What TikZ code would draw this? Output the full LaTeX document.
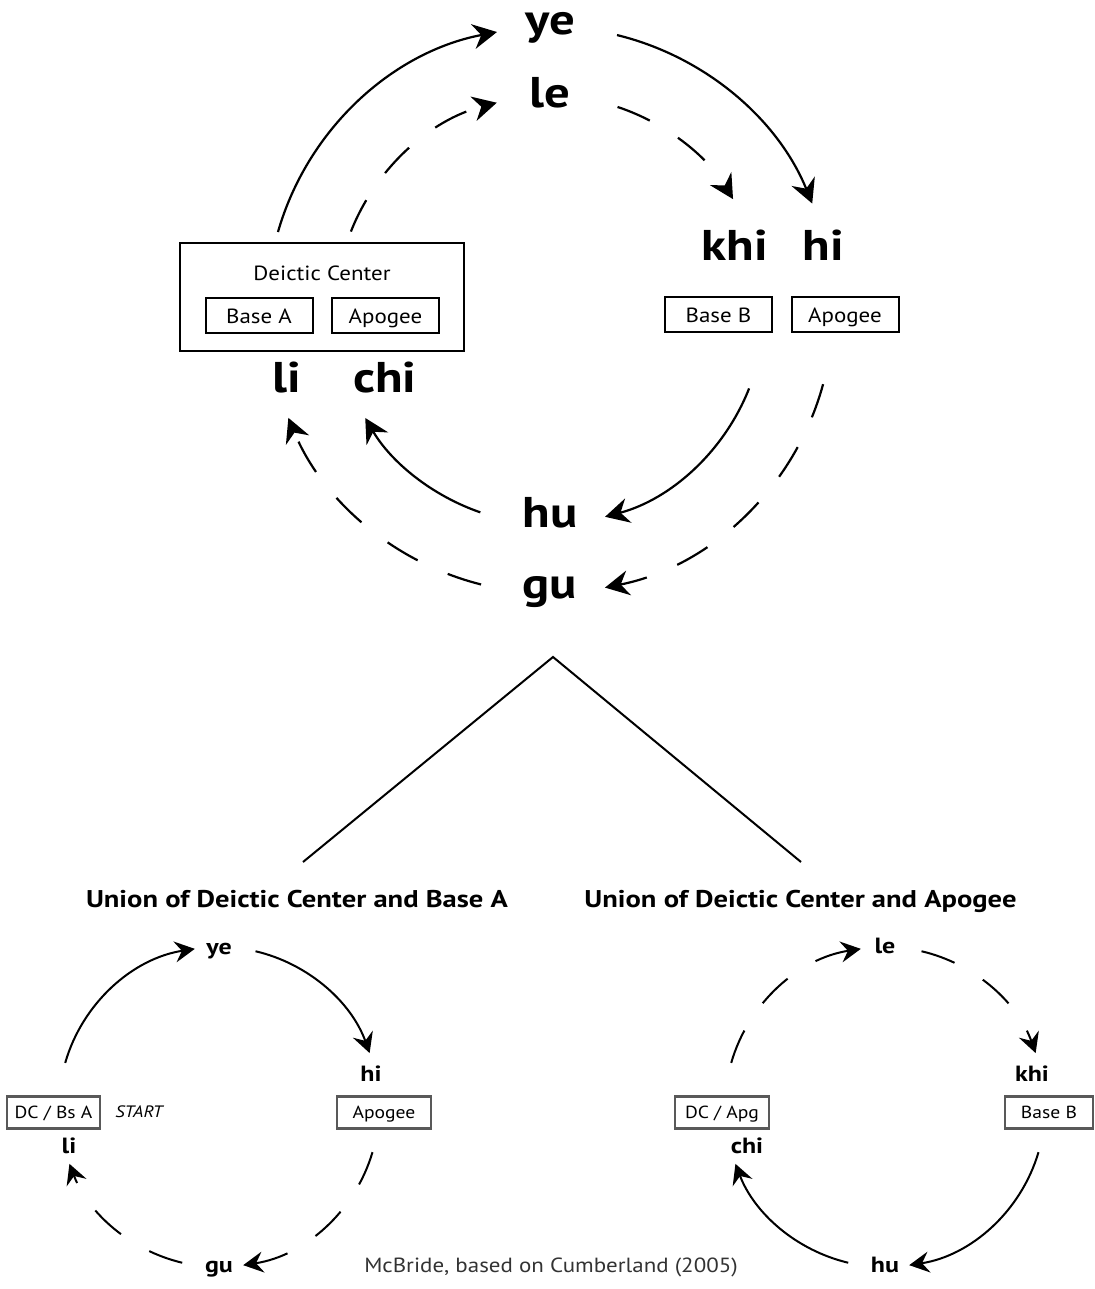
\documentclass[tikz,border=0pt]{standalone}
\usepackage{fontspec}
\setmainfont{PT Sans}[FakeStretch=1.12, BoldFeatures={FakeStretch=1.18}, ItalicFeatures={FakeStretch=1.12}]
\usetikzlibrary{arrows.meta,calc}
\begin{document}
\begin{tikzpicture}[x=1pt,y=1pt,
  big/.style={font=\fontsize{43}{43}\selectfont\bfseries, anchor=base, inner sep=0},
  sml/.style={font=\fontsize{22}{22}\selectfont\bfseries, anchor=base, inner sep=0},
  head/.style={font=\fontsize{24.2}{24}\selectfont\bfseries, anchor=base, inner sep=0},
  tbox/.style={draw, line width=2pt, minimum width=107pt, minimum height=35pt, inner sep=0, text height=20pt, text depth=4pt, font=\fontsize{20.5}{20}\selectfont},
  sbox/.style={draw=black!65, line width=2.5pt, minimum height=32pt, inner sep=0, text height=15pt, text depth=4pt, font=\fontsize{17.5}{17}\selectfont},
  conn/.style={line width=2.2pt, -{Stealth[length=24pt,width=25pt,inset=8pt]}},
  dconn/.style={conn, dash pattern=on 35pt off 33pt},
  sconn/.style={line width=2pt, -{Stealth[length=20pt,width=21pt,inset=7pt]}},
  dsconn/.style={sconn, dash pattern=on 35pt off 33pt},
]
\useasboundingbox (0,0) rectangle (1094,-1289);

% ---------- top diagram ----------
\node[big] (ye) at (550,-35) {ye};
\node[big] (le) at (550,-108) {le};
\node[big] (khi) at (735,-261) {khi};
\node[big] (hi) at (823,-261) {hi};
\node[big] (li) at (287,-392) {li};
\node[big] (chi) at (385,-392) {chi};
\node[big] (hu) at (550,-527) {hu};
\node[big] (gu) at (550,-598) {gu};

\node[draw, line width=2pt, minimum width=284pt, minimum height=107pt] (dc) at (322,-297) {};
\node[anchor=base, inner sep=0, font=\fontsize{20.5}{20}\selectfont] (dctext) at (322,-280) {Deictic Center};
\node[tbox] (basea) at (259,-315) {Base A};
\node[tbox] (apo1) at (385.5,-315) {Apogee};
\node[tbox] (baseb) at (718.5,-314.5) {Base B};
\node[tbox] (apo2) at (845,-314.5) {Apogee};

\coordinate (C) at (550,-310);
\coordinate (o1) at ($(C)+(164:283pt)$);
\coordinate (o2) at ($(C)+(76.3:283pt)$);
\coordinate (o3) at ($(C)+(-15.2:283pt)$);
\coordinate (o4) at ($(C)+(-104.1:283pt)$);
\coordinate (i1) at ($(C)+(158.5:214pt)$);
\coordinate (i2) at ($(C)+(71.6:214pt)$);
\coordinate (i3) at ($(C)+(-21.5:214pt)$);
\coordinate (i4) at ($(C)+(-109:214pt)$);

\draw[conn]  (o1) arc[start angle=164,   end angle=100.8,  radius=283pt];
\draw[conn]  (o2) arc[start angle=76.3,  end angle=22.1,   radius=283pt];
\draw[dconn] (o3) arc[start angle=-15.2, end angle=-78.8,  radius=283pt];
\draw[dconn] (o4) arc[start angle=-104.1,end angle=-157.6, radius=283pt];
\draw[dconn] (i1) arc[start angle=158.5, end angle=104.4,  radius=214pt];
\draw[dconn] (i2) arc[start angle=71.6,  end angle=31.2,   radius=214pt];
\draw[conn]  (i3) arc[start angle=-21.5, end angle=-75.1,  radius=214pt];
\draw[conn]  (i4) arc[start angle=-109,  end angle=-149.7, radius=214pt];

% ---------- split ----------
\coordinate (apex) at (553,-657);
\coordinate (tl) at (303,-862);
\coordinate (tr) at (801,-862);
\draw[line width=2pt] (tl) -- (apex) -- (tr);

% ---------- bottom left ----------
\node[head] (h1) at (297,-907) {Union of Deictic Center and Base A};
\node[sml] (ye2) at (219,-954) {ye};
\node[sml] (hi2) at (371,-1081) {hi};
\node[sml] (li2) at (69,-1153) {li};
\node[sml] (gu2) at (219,-1272) {gu};
\node[sbox, minimum width=93pt] (dcbs) at (53.5,-1112.5) {DC / Bs A};
\node[anchor=base, inner sep=0, font=\fontsize{16.5}{16}\selectfont\itshape] (start) at (139,-1117) {START};
\node[sbox, minimum width=94pt] (apo3) at (384,-1112.5) {Apogee};

\coordinate (CL) at (219,-1107);
\coordinate (l1) at ($(CL)+(164:160pt)$);
\coordinate (l2) at ($(CL)+(76.8:160pt)$);
\coordinate (l3) at ($(CL)+(-16.4:160pt)$);
\coordinate (l4) at ($(CL)+(-103.3:160pt)$);
\draw[sconn]  (l1) arc[start angle=164,    end angle=98.7,   radius=160pt];
\draw[sconn]  (l2) arc[start angle=76.8,   end angle=19.7,   radius=160pt];
\draw[dsconn] (l3) arc[start angle=-16.4,  end angle=-81.3,  radius=160pt];
\draw[dsconn] (l4) arc[start angle=-103.3, end angle=-159.2, radius=160pt];

% ---------- bottom right ----------
\node[head] (h2) at (800.5,-907) {Union of Deictic Center and Apogee};
\node[sml] (le2) at (885,-953) {le};
\node[sml] (khi2) at (1032,-1081) {khi};
\node[sml] (chi2) at (747,-1153) {chi};
\node[sml] (hu2) at (885,-1272) {hu};
\node[sbox, minimum width=94pt] (dcapg) at (722,-1112.5) {DC / Apg};
\node[sbox, minimum width=88pt] (baseb2) at (1049,-1112.5) {Base B};

\coordinate (CR) at (885,-1107);
\coordinate (r1) at ($(CR)+(164:160pt)$);
\coordinate (r2) at ($(CR)+(76.8:160pt)$);
\coordinate (r3) at ($(CR)+(-16.4:160pt)$);
\coordinate (r4) at ($(CR)+(-103.3:160pt)$);
\draw[dsconn] (r1) arc[start angle=164,    end angle=98.7,   radius=160pt];
\draw[dsconn] (r2) arc[start angle=76.8,   end angle=19.7,   radius=160pt];
\draw[sconn]  (r3) arc[start angle=-16.4,  end angle=-81.3,  radius=160pt];
\draw[sconn]  (r4) arc[start angle=-103.3, end angle=-159.2, radius=160pt];

\node[anchor=base, inner sep=0, font=\fontsize{20.5}{20}\selectfont, text=black!80] (cite) at (551,-1272) {McBride, based on Cumberland (2005)};
\end{tikzpicture}
\end{document}
